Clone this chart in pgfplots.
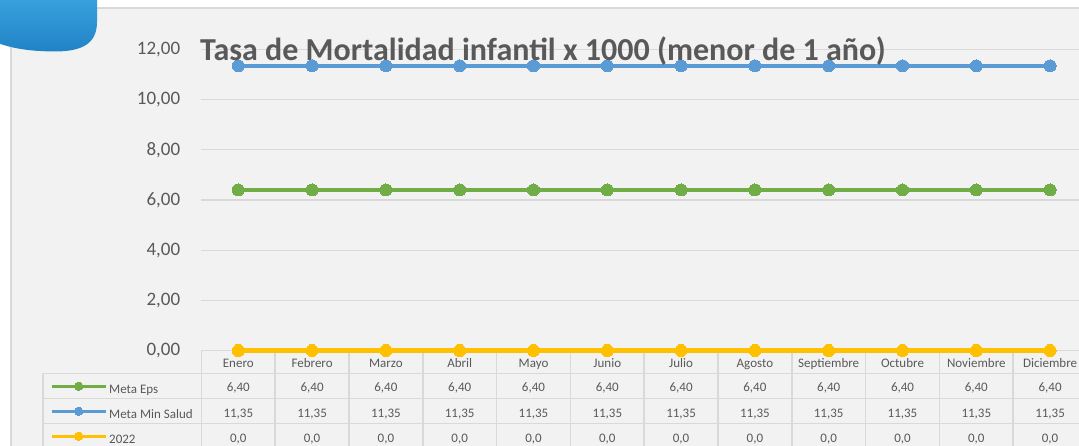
\documentclass[border=0pt]{standalone}
\usepackage{fontspec}
\setmainfont{Carlito}
\usepackage{pgfplots}
\usepackage{pgfplotstable}
\pgfplotsset{compat=1.18}
\definecolor{cgreen}{HTML}{70AD47}
\definecolor{cblue}{HTML}{5B9BD5}
\definecolor{cyellow}{HTML}{FFC000}
\definecolor{bgray}{HTML}{F2F2F2}
\definecolor{lgray}{HTML}{D9D9D9}
\definecolor{tgray}{HTML}{595959}
\definecolor{blobtop}{HTML}{3AA3DF}
\definecolor{blobbot}{HTML}{2082C6}
\pgfplotstableread{
x eps minsalud y2022
0 6.40 11.35 0.0
1 6.40 11.35 0.0
2 6.40 11.35 0.0
3 6.40 11.35 0.0
4 6.40 11.35 0.0
5 6.40 11.35 0.0
6 6.40 11.35 0.0
7 6.40 11.35 0.0
8 6.40 11.35 0.0
9 6.40 11.35 0.0
10 6.40 11.35 0.0
11 6.40 11.35 0.0
}\datatable
\begin{document}
\begin{tikzpicture}[x=1pt,y=1pt]
\useasboundingbox (0,0) rectangle (1079,445);
\clip (0,0) rectangle (1079,445);
\fill[white] (0,0) rectangle (1079,445);
\fill[bgray] (11,-5) rectangle (1100,437);
\draw[lgray, line width=1.2pt] (11,-5) -- (11,437) -- (1100,437);
\shade[top color=blobtop, bottom color=blobbot]
  (-5,450) -- (97,450) -- (97,423) .. controls (97,395) and (72,392) .. (40,394)
  .. controls (20,395) and (5,399) .. (-5,403) -- cycle;
% table rules
\draw[lgray, line width=1.5pt] (43,71.7) -- (1100,71.7);
\draw[lgray, line width=1.5pt] (43,46.5) -- (1100,46.5);
\draw[lgray, line width=1.5pt] (43,21.5) -- (1100,21.5);
\draw[lgray, line width=1.5pt] (43,71.7) -- (43,-5);
\begin{axis}[
  at={(201.4pt,94.5pt)}, anchor=south west,
  scale only axis, width=885.6pt, height=301pt,
  xmin=-0.5, xmax=11.5, ymin=0, ymax=12,
  clip=false,
  axis line style={draw=none},
  tick pos=left,
  major tick length=0pt,
  ytick={0,2,...,12},
  ymajorgrids, grid style={lgray, line width=1.2pt},
  /pgf/number format/.cd, use comma, fixed, fixed zerofill, precision=2, assume math mode=true,
  /pgfplots/.cd,
  yticklabel style={font=\fontsize{19}{19}\selectfont, text=tgray, inner sep=0pt, xshift=-21pt},
  xtick={0,...,11},
  xticklabels={Enero,Febrero,Marzo,Abril,Mayo,Junio,Julio,Agosto,Septiembre,Octubre,Noviembre,Diciembre},
  xticklabel style={font=\fontsize{13}{13}\selectfont, text=tgray, anchor=base, yshift=-16.5pt},
  extra x ticks={-0.5,0.5,...,11.5},
  extra x tick labels={},
  extra x tick style={major tick length=100pt, tick align=outside, tick style={lgray, line width=1.5pt}, grid=none},
  legend entries={Meta Eps, Meta Min Salud, 2022},
  legend cell align=left,
  legend image code/.code={\draw[mark repeat=2, mark phase=2, #1, line width=3pt, mark size=4.2pt] plot coordinates {(0pt,4pt) (27pt,4pt) (54pt,4pt)};},
  legend style={at={(axis description cs:0,0)}, anchor=north west, xshift=-151.4pt, yshift=-27pt,
    draw=none, fill=none, inner sep=0pt, row sep=0pt, column sep=2pt,
    font=\fontsize{13}{13}\selectfont, text=tgray,
    nodes={inner sep=0pt, text height=9pt, text depth=3pt, minimum height=25pt}},
]
\addplot[cgreen, line width=4.5pt, mark=*, mark size=6pt, mark options={solid, fill=cgreen, draw=cgreen, line width=0pt},
  point meta=y, nodes near coords={\pgfmathprintnumber[fixed,fixed zerofill,precision=2,use comma]{\pgfplotspointmeta}},
  nodes near coords align=center,
  every node near coord/.append style={anchor=base, yshift=-202pt, font=\fontsize{13}{13}\selectfont, text=tgray}]
  table[x=x, y=eps]{\datatable};
\addplot[cblue, line width=4.5pt, mark=*, mark size=6pt, mark options={solid, fill=cblue, draw=cblue, line width=0pt},
  point meta=y, nodes near coords={\pgfmathprintnumber[fixed,fixed zerofill,precision=2,use comma]{\pgfplotspointmeta}},
  nodes near coords align=center,
  every node near coord/.append style={anchor=base, yshift=-351.2pt, font=\fontsize{13}{13}\selectfont, text=tgray}]
  table[x=x, y=minsalud]{\datatable};
\addplot[cyellow, line width=4.5pt, mark=*, mark size=6pt, mark options={solid, fill=cyellow, draw=cyellow, line width=0pt},
  point meta=y, nodes near coords={\pgfmathprintnumber[fixed,fixed zerofill,precision=1,use comma]{\pgfplotspointmeta}},
  nodes near coords align=center,
  every node near coord/.append style={anchor=base, yshift=-91.5pt, font=\fontsize{13}{13}\selectfont, text=tgray}]
  table[x=x, y=y2022]{\datatable};
\end{axis}
\node[anchor=base west, inner sep=0pt, font=\bfseries\fontsize{32}{32}\selectfont, text=tgray] at (200,384) {Tasa de Mortalidad infantil x 1000 (menor de 1 año)};
\end{tikzpicture}
\end{document}
